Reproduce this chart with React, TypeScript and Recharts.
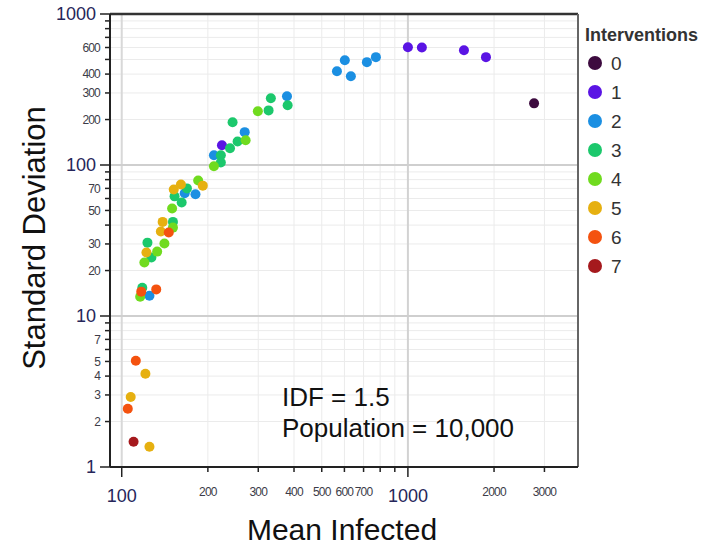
import React from "react";
import {
  ScatterChart,
  Scatter,
  XAxis,
  YAxis,
  CartesianGrid,
  ReferenceLine,
} from "recharts";

// values, one pair of arrays per intervention count
const interventions = ["0", "1", "2", "3", "4", "5", "6", "7"];

const meanInfected0 = [2760];
const stdDev0 = [256];

const meanInfected1 = [1000, 1119, 1570, 1874, 224];
const stdDev1 = [603, 600, 576, 518, 135];

const meanInfected2 = [565, 602, 632, 719, 773, 378, 269, 210, 181, 166, 125];
const stdDev2 = [418, 494, 387, 480, 518, 285, 165, 116, 64, 65, 13.6];

const meanInfected3 = [332, 326, 380, 244, 254, 239, 222, 222, 169, 153, 162, 151, 123, 127, 118];
const stdDev3 = [277, 230, 249, 192, 143, 129, 116, 104, 70, 62, 56.5, 42, 30.6, 24.4, 15.4];

const meanInfected4 = [299, 271, 210, 185, 150, 151, 141, 133, 120, 116];
const stdDev4 = [227, 146, 98, 79, 51.5, 38.5, 30.2, 26.7, 22.6, 13.4];

const meanInfected5 = [152, 161, 192, 139, 137, 122, 107.5, 121, 125];
const stdDev5 = [68.9, 74.3, 73, 42, 36.3, 26.3, 2.91, 4.14, 1.36];

const meanInfected6 = [146, 117, 132, 112, 105];
const stdDev6 = [35.7, 14.5, 15, 5.05, 2.43];

const meanInfected7 = [110];
const stdDev7 = [1.47];

const meanInfected = [
  meanInfected0, meanInfected1, meanInfected2, meanInfected3,
  meanInfected4, meanInfected5, meanInfected6, meanInfected7,
];
const stdDev = [stdDev0, stdDev1, stdDev2, stdDev3, stdDev4, stdDev5, stdDev6, stdDev7];

const xTicks = [100, 200, 300, 400, 500, 600, 700, 800, 900, 1000, 2000, 3000];
const xBigLabels = [100, 1000];
const xSmallLabels = [200, 300, 400, 500, 600, 700, 2000, 3000];

const yTicks = [
  1, 2, 3, 4, 5, 6, 7, 8, 9,
  10, 20, 30, 40, 50, 60, 70, 80, 90,
  100, 200, 300, 400, 500, 600, 700, 800, 900, 1000,
];
const yBigLabels = [1, 10, 100, 1000];
const ySmallLabels = [2, 3, 4, 5, 7, 20, 30, 50, 70, 200, 300, 400, 600];

const COLORS = ["#3d0b3f", "#5a14e4", "#1b8fe2", "#1cc86c", "#70db1f", "#e6b010", "#f4520f", "#a5191d"];
const FONT = "'Liberation Sans', Arial, sans-serif";
const BIG_TICK = "#26265a";
const SMALL_TICK = "#3c3c48";

const series = interventions.map((name, i) => ({
  name,
  data: meanInfected[i].map((x, j) => ({ x, y: stdDev[i][j] })),
}));

const XTick = ({ x, y, payload }: any) => {
  const v = payload.value;
  const big = xBigLabels.includes(v);
  const small = xSmallLabels.includes(v);
  return (
    <g>
      <line x1={x} x2={x} y1={y} y2={y + (big ? 10 : 5)} stroke="#222" strokeWidth={1.5} />
      {big && (
        <text x={x} y={y + 35} textAnchor="middle" fontSize={18} fill={BIG_TICK} fontFamily={FONT}>
          {v}
        </text>
      )}
      {small && (
        <text x={x} y={y + 29} textAnchor="middle" fontSize={12} letterSpacing={-0.8} fill={SMALL_TICK} fontFamily={FONT}>
          {v}
        </text>
      )}
    </g>
  );
};

const YTick = ({ x, y, payload }: any) => {
  const v = payload.value;
  const big = yBigLabels.includes(v);
  const small = ySmallLabels.includes(v);
  return (
    <g>
      <line x1={x - (big ? 10 : 5)} x2={x} y1={y} y2={y} stroke="#222" strokeWidth={1.5} />
      {big && (
        <text x={x - 14} y={y} dy="0.36em" textAnchor="end" fontSize={18} fill={BIG_TICK} fontFamily={FONT}>
          {v}
        </text>
      )}
      {small && (
        <text x={x - 10} y={y} dy="0.36em" textAnchor="end" fontSize={12} letterSpacing={-0.8} fill={SMALL_TICK} fontFamily={FONT}>
          {v}
        </text>
      )}
    </g>
  );
};

const Dot = ({ cx, cy, fill }: any) => <circle cx={cx} cy={cy} r={5} fill={fill} />;

export default function App() {
  return (
    <div style={{ position: "absolute", left: 0, top: 0, width: 707, height: 548, background: "#fff", fontFamily: FONT }}>
      <ScatterChart width={707} height={548} margin={{ top: 14, right: 129, bottom: 0, left: 0 }}>
        <CartesianGrid stroke="#ebebeb" strokeWidth={1} />
        <ReferenceLine x={100} stroke="#d8d8d8" strokeWidth={2} />
        <ReferenceLine x={1000} stroke="#d2d2d2" strokeWidth={2} />
        <ReferenceLine y={10} stroke="#cfcfcf" strokeWidth={2} />
        <ReferenceLine y={100} stroke="#cfcfcf" strokeWidth={2} />
        <ReferenceLine y={1000} stroke="#333" strokeWidth={2.5} />
        <ReferenceLine x={3930} stroke="#666" strokeWidth={2} />
        <XAxis
          dataKey="x"
          type="number"
          scale="log"
          domain={[91, 3930]}
          allowDataOverflow
          ticks={xTicks}
          interval={0}
          height={81}
          tickSize={0}
          tickMargin={0}
          tickLine={false}
          tick={<XTick />}
          axisLine={{ stroke: "#222", strokeWidth: 2 }}
        />
        <YAxis
          dataKey="y"
          type="number"
          scale="log"
          domain={[1, 1000]}
          allowDataOverflow
          ticks={yTicks}
          interval={0}
          width={110}
          tickSize={0}
          tickMargin={0}
          tickLine={false}
          tick={<YTick />}
          axisLine={{ stroke: "#222", strokeWidth: 2 }}
        />
        {series.map((s, i) => (
          <Scatter
            key={s.name}
            name={s.name}
            data={s.data}
            fill={COLORS[i]}
            shape={<Dot />}
            isAnimationActive={false}
          />
        ))}
      </ScatterChart>

      <svg width={707} height={548} style={{ position: "absolute", left: 0, top: 0, pointerEvents: "none" }}>
        <text x={45} y={238} transform="rotate(-90 45 238)" textAnchor="middle" fontSize={31} fill="#111" fontFamily={FONT}>
          Standard Deviation
        </text>
        <text x={342} y={540} textAnchor="middle" fontSize={30} fill="#111" fontFamily={FONT}>
          Mean Infected
        </text>
        <text x={282} y={406} fontSize={26} fill="#111" fontFamily={FONT}>
          IDF = 1.5
        </text>
        <text x={282} y={437} fontSize={26} fill="#111" fontFamily={FONT}>
          Population = 10,000
        </text>

        {/* legend */}
        <text x={585} y={41} fontSize={18} fontWeight="bold" fill="#333" fontFamily={FONT}>
          Interventions
        </text>
        {interventions.map((name, i) => (
          <g key={name}>
            <circle cx={595} cy={63 + i * 29} r={7} fill={COLORS[i]} />
            <text x={611} y={63 + i * 29} dy="0.36em" fontSize={19} fill="#333" fontFamily={FONT}>
              {name}
            </text>
          </g>
        ))}
      </svg>
    </div>
  );
}
